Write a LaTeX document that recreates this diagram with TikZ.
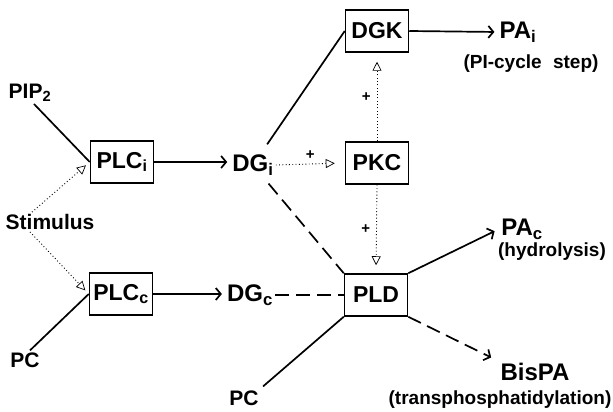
\documentclass[tikz,border=0pt]{standalone}
\usepackage{fontspec}
\setmainfont{Liberation Sans}
\usepackage{tikz}
\usetikzlibrary{arrows.meta}

\begin{document}
\begin{tikzpicture}[x=1pt, y=-1pt,
        enzyme/.style={draw, rectangle, line width=1.5pt, minimum width=63pt, minimum height=42pt, inner sep=1pt, font=\bfseries\fontsize{23}{25}\selectfont},
        lipid/.style={inner sep=2pt, font=\bfseries\fontsize{24}{26}\selectfont},
        small/.style={inner sep=2pt, font=\bfseries\fontsize{21}{24}\selectfont},
        note/.style={inner sep=1pt, font=\bfseries\fontsize{19}{21}\selectfont},
        plus/.style={inner sep=1pt, font=\bfseries\fontsize{15}{15}\selectfont},
        link/.style={line width=1.7pt},
        flow/.style={line width=1.7pt, -{Straight Barb[length=5pt,width=12pt]}},
        dashlink/.style={line width=1.7pt, dash pattern=on 14pt off 7pt},
        activ/.style={line width=0.9pt, dash pattern=on 0.9pt off 2.4pt, -{Triangle[open,length=9pt,width=9pt,line width=0.7pt]}}]
        \useasboundingbox (0,0) rectangle (613,412);
        % substrates and stimulus
        \node[small] (pip) at (30,93) {PIP\textsubscript{2}};
        \node[small] (stim) at (50,222) {Stimulus};
        \node[small] (pc1) at (25,360) {PC};
        \node[small] (pc2) at (244,398) {PC};
        % enzymes
        \node[enzyme] (plci) at (122,162) {PLC\textsubscript{i}};
        \node[enzyme] (plcc) at (121,294) {PLC\textsubscript{c}};
        \node[enzyme] (dgk) at (377,31) {DGK};
        \node[enzyme] (pkc) at (377,163) {PKC};
        \node[enzyme] (pld) at (376,295) {PLD};
        % products
        \node[lipid] (dgi) at (253,165) {DG\textsubscript{i}};
        \node[lipid] (dgc) at (250,295) {DG\textsubscript{c}};
        \node[lipid] (pai) at (518,32) {PA\textsubscript{i}};
        \node[note] (picyc) at (531,64) {(PI-cycle\hspace{0.6em}step)};
        \node[lipid] (pac) at (522,229) {PA\textsubscript{c}};
        \node[note] (hydro) at (552,252) {(hydrolysis)};
        \node[lipid] (bispa) at (535,372) {BisPA};
        \node[note] (trans) at (500,400) {(transphosphatidylation)};
        % PLC step
        \draw[link] ([xshift=4pt]pip.south) -- (plci.west);
        \draw[activ, shorten >=5pt] ([xshift=-18pt]stim.north) -- (plci.west);
        \draw[activ, shorten >=5pt] ([xshift=-20pt]stim.south) -- (plcc.west);
        \draw[link] ([xshift=5pt]pc1.north) -- (plcc.west);
        \draw[flow, shorten >=3pt] (plci.east) -- (plci.east -| dgi.west);
        \draw[flow, shorten >=3pt] (plcc.east) -- (plcc.east -| dgc.west);
        % DG pathways
        \draw[link, shorten <=10pt] (dgi) -- (dgk.west);
        \draw[dashlink, shorten <=8pt] (dgi) -- (pld.north west);
        \draw[dashlink] (dgc.east) -- (pld.west);
        \draw[activ, shorten >=10pt] (dgi.east) -- (pkc.west) node[midway, above=3pt, plus] {+};
        \draw[activ, shorten >=9pt] (pkc.north) -- (dgk.south) node[midway, left=5pt, plus] {+};
        \draw[activ, shorten >=8pt] (pkc.south) -- (pld.north) node[midway, left=5pt, plus] {+};
        % PA formation
        \draw[flow, shorten >=3pt] (dgk.east) -- (pai.west);
        \draw[flow, shorten >=5pt] (pld.north east) -- (pac.west);
        \draw[dashlink, -{Straight Barb[length=5pt,width=12pt]}, shorten >=8pt] (pld.south east) -- (bispa.north west);
        \draw[link, shorten >=3pt] (pld.south west) -- (pc2.north east);
\end{tikzpicture}
\end{document}
